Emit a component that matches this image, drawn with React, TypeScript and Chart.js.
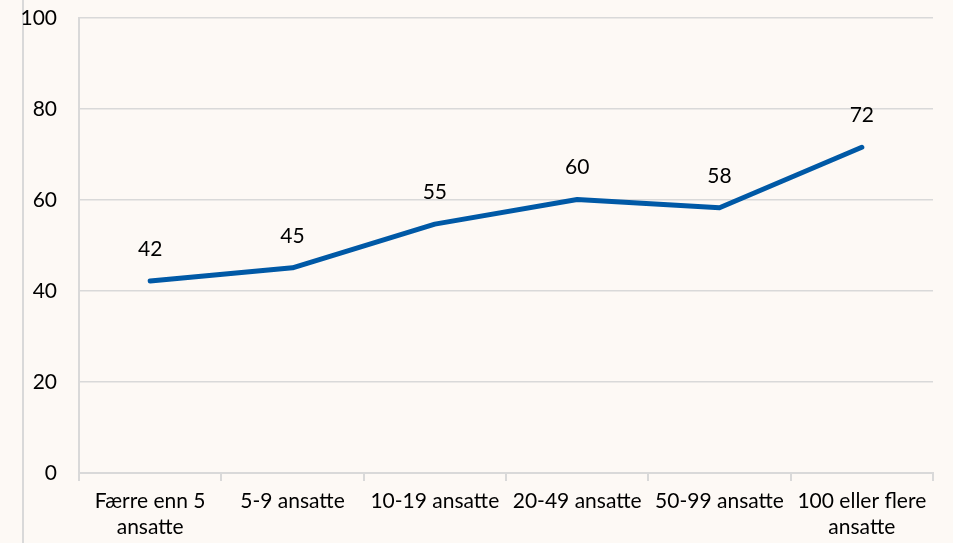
import React, { useEffect, useRef } from "react";
import { Chart, registerables } from "chart.js";

Chart.register(...registerables);

const categories: (string | string[])[] = [
  ["Færre enn 5", "ansatte"],
  "5-9 ansatte",
  "10-19 ansatte",
  "20-49 ansatte",
  "50-99 ansatte",
  ["100 eller flere", "ansatte"],
];
const values = [42.2, 45.1, 54.7, 60.1, 58.3, 71.6];
const yTicks = [0, 20, 40, 60, 80, 100];

const FONT = "Lato, 'Open Sans', sans-serif";
const FSIZE = 21;
const BG = "#fdf9f5";
const GRID = "#d9d9d9";
const LINE = "#0059a6";

const labelPlugin = {
  id: "pointLabels",
  afterDatasetsDraw(chart: any) {
    const ctx = chart.ctx;
    const meta = chart.getDatasetMeta(0);
    ctx.save();
    ctx.font = `${FSIZE}px ${FONT}`;
    ctx.fillStyle = "#000";
    ctx.textAlign = "center";
    ctx.textBaseline = "middle";
    meta.data.forEach((pt: any, i: number) => {
      ctx.fillText(String(Math.round(values[i])), pt.x, pt.y - 32);
    });
    ctx.restore();
  },
};

export default function App() {
  const ref = useRef<HTMLCanvasElement>(null);
  useEffect(() => {
    const chart = new Chart(ref.current!, {
      type: "line",
      data: {
        labels: categories,
        datasets: [
          {
            data: values,
            borderColor: LINE,
            borderWidth: 5,
            pointRadius: 0,
            tension: 0,
            fill: false,
            borderCapStyle: "round",
            borderJoinStyle: "round",
          } as any,
        ],
      },
      options: {
        animation: false,
        responsive: false,
        maintainAspectRatio: false,
        layout: { padding: { top: 18, right: 20, left: 0, bottom: 0 } },
        plugins: { legend: { display: false }, tooltip: { enabled: false } },
        scales: {
          x: {
            offset: true,
            grid: {
              display: true,
              offset: true,
              drawOnChartArea: false,
              drawTicks: true,
              tickLength: 8,
              color: GRID,
              lineWidth: 2,
            },
            border: { display: true, color: GRID, width: 2 },
            ticks: {
              color: "#000",
              font: { family: FONT, size: FSIZE, lineHeight: 1.2 },
              padding: 8,
              maxRotation: 0,
              autoSkip: false,
            },
            afterFit(scale: any) {
              scale.height = 70;
              scale.paddingLeft = 0;
              scale.paddingRight = 0;
            },
          },
          y: {
            min: 0,
            max: 100,
            afterBuildTicks(scale: any) {
              scale.ticks = yTicks.map((v) => ({ value: v }));
            },
            grid: { color: GRID, lineWidth: 1.5, drawTicks: false },
            border: { display: true, color: GRID, width: 2 },
            ticks: {
              color: "#000",
              font: { family: FONT, size: FSIZE },
              padding: 22,
            },
            afterFit(scale: any) {
              scale.width = 79;
              scale.paddingTop = 0;
              scale.paddingBottom = 0;
            },
          },
        },
      },
      plugins: [labelPlugin],
    });
    return () => chart.destroy();
  }, []);
  return (
    <div
      style={{
        position: "fixed",
        left: 0,
        top: 0,
        width: 953,
        height: 543,
        background: BG,
      }}
    >
      <div
        style={{
          position: "absolute",
          left: 22,
          top: 0,
          width: 2,
          height: 543,
          background: GRID,
        }}
      />
      <canvas
        ref={ref}
        width={953}
        height={543}
        style={{ position: "absolute", left: 0, top: 0, width: 953, height: 543 }}
      />
    </div>
  );
}
